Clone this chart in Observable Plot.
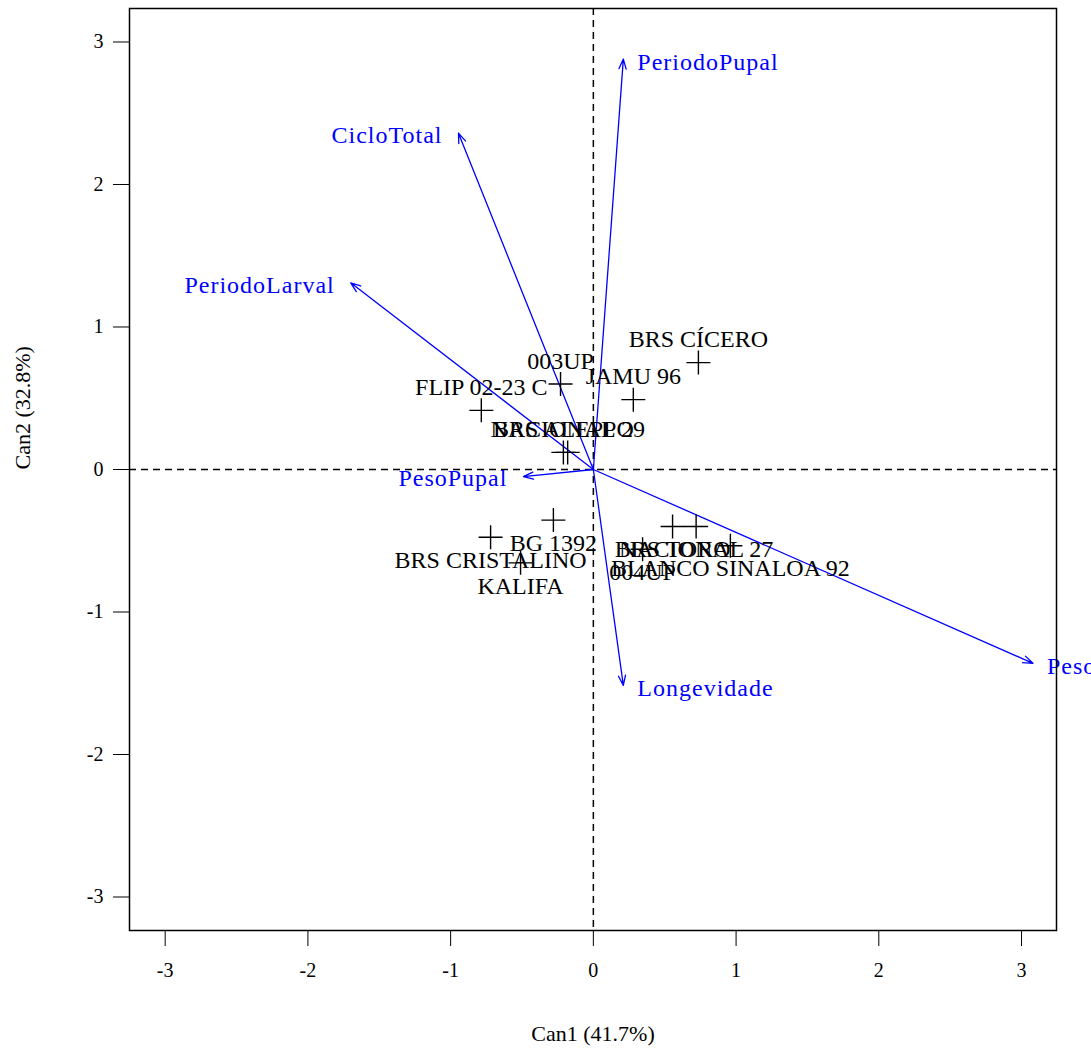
<!DOCTYPE html>
<html>
<head>
<meta charset="utf-8">
<script src="https://cdn.jsdelivr.net/npm/d3@7"></script>
<script src="https://cdn.jsdelivr.net/npm/@observablehq/plot@0.6"></script>
<style>
  html, body { margin: 0; padding: 0; background: white; overflow: hidden; }
  svg { overflow: hidden; }
</style>
</head>
<body>
<div id="chart"></div>
<script>
// Genotype scores (canonical variates)
const genotypes = ["BRS CÍCERO", "JAMU 96", "003UP", "FLIP 02-23 C", "BRS ALEPPO", "NACIONAL 29",
  "BRS CRISTALINO", "BG 1392", "KALIFA", "BRS TORO", "NACIONAL 27", "BLANCO SINALOA 92", "004UP"];
const can1 = [0.736, 0.28, -0.23, -0.785, -0.21, -0.18, -0.72, -0.28, -0.51, 0.555, 0.72, 0.96, 0.345];
const can2 = [0.75, 0.49, 0.60, 0.415, 0.12, 0.12, -0.475, -0.355, -0.655, -0.40, -0.40, -0.535, -0.56];

// Variable loadings (arrows)
const variables = ["PeriodoPupal", "CicloTotal", "PeriodoLarval", "PesoPupal", "Longevidade", "PesoLarval"];
const varCan1 = [0.21, -0.945, -1.70, -0.49, 0.21, 3.08];
const varCan2 = [2.88, 2.36, 1.31, -0.05, -1.515, -1.36];

const ticks = [-3, -2, -1, 0, 1, 2, 3];
const xTitle = "Can1 (41.7%)";
const yTitle = "Can2 (32.8%)";

const points = genotypes.map((name, i) => ({name, x: can1[i], y: can2[i]}));
const vars = variables.map((name, i) => ({name, x: varCan1[i], y: varCan2[i]}));

const cross = {
  draw(context, size) {
    const r = Math.sqrt(size / Math.PI);
    context.moveTo(-r, 0); context.lineTo(r, 0);
    context.moveTo(0, -r); context.lineTo(0, r);
  }
};

const font = "Liberation Serif, Times New Roman, serif";

const chart = Plot.plot({
  width: 1091,
  height: 1057,
  marginLeft: 129,
  marginRight: 35,
  marginTop: 8,
  marginBottom: 127,
  style: {fontFamily: font, background: "white", color: "black"},
  x: {domain: [-3.25, 3.245]},
  y: {domain: [-3.235, 3.235]},
  marks: [
    Plot.ruleX([0], {stroke: "black", strokeWidth: 1.5, strokeDasharray: "7,5"}),
    Plot.ruleY([0], {stroke: "black", strokeWidth: 1.5, strokeDasharray: "7,5"}),
    Plot.arrow(vars, {x1: 0, y1: 0, x2: "x", y2: "y", stroke: "blue", strokeWidth: 1.3, headLength: 12, headAngle: 40}),
    Plot.text(vars.filter(d => d.x > 0), {x: "x", y: "y", text: "name", fill: "blue", textAnchor: "start", dx: 14, dy: 3, fontSize: 24}),
    Plot.text(vars.filter(d => d.x <= 0), {x: "x", y: "y", text: "name", fill: "blue", textAnchor: "end", dx: -16, dy: 2, fontSize: 24}),
    Plot.dot(points, {x: "x", y: "y", symbol: cross, r: 12, stroke: "black", strokeWidth: 1.4, fill: "none"}),
    Plot.text(points.filter(d => d.y > 0), {x: "x", y: "y", text: "name", fill: "black", dy: -23, fontSize: 24}),
    Plot.text(points.filter(d => d.y <= 0), {x: "x", y: "y", text: "name", fill: "black", dy: 23, fontSize: 24}),
    Plot.frame({stroke: "black", strokeWidth: 1.5}),
    Plot.axisX({ticks, tickSize: 16, tickPadding: 16, fontSize: 20, label: null, tickFormat: d => String(d)}),
    Plot.axisY({ticks, tickSize: 16, tickPadding: 10, fontSize: 20, label: null, tickFormat: d => String(d)}),
    Plot.text([xTitle], {frameAnchor: "bottom", dy: 110, fontSize: 22, fill: "black"}),
    Plot.text([yTitle], {frameAnchor: "left", dx: -107, rotate: -90, fontSize: 22, fill: "black"})
  ]
});
d3.select(chart).selectAll('g[fill="blue"] text').style("letter-spacing", "1px");
document.getElementById("chart").appendChild(chart);
</script>
</body>
</html>
